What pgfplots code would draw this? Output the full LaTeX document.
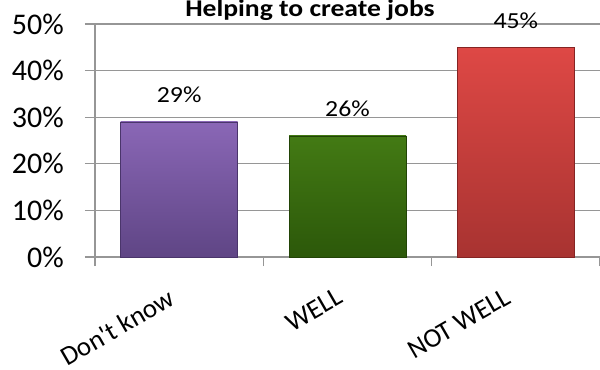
\documentclass[border=0pt]{standalone}
\usepackage{pgfplots}
\pgfplotsset{compat=1.18}
\usepackage{fontspec}
\setmainfont{Carlito}
\definecolor{gridgray}{HTML}{969696}
\definecolor{purTop}{HTML}{8A67B6}
\definecolor{purBot}{HTML}{5F4585}
\definecolor{purEdge}{HTML}{4A356B}
\definecolor{grnTop}{HTML}{437A14}
\definecolor{grnBot}{HTML}{2C580A}
\definecolor{grnEdge}{HTML}{224406}
\definecolor{redTop}{HTML}{DE4845}
\definecolor{redBot}{HTML}{A83331}
\definecolor{redEdge}{HTML}{852423}
\begin{document}
\begin{tikzpicture}
\begin{axis}[
  at={(0,0)}, anchor=south west,
  scale only axis, width=505bp, height=233bp,
  xmin=0, xmax=3, ymin=0, ymax=50,
  ytick={0,10,20,30,40,50},
  yticklabel={\pgfmathprintnumber{\tick}\%},
  /pgf/number format/assume math mode=true,
  ymajorgrids, grid style={gridgray, line width=1.2bp},
  axis x line*=bottom, axis y line*=left,
  axis line style={gridgray, line width=1.2bp, -},
  tick align=outside, major tick length=10bp,
  tick style={gridgray, line width=1.2bp},
  xtick={0.5,1.5,2.5},
  xticklabels={Don\textquotesingle t know, WELL, NOT WELL},
  xtick style={draw=none},
  extra x ticks={0,1,2,3},
  extra x tick labels={},
  extra x tick style={grid=none, xtick style={draw=gridgray}, major tick length=9bp},
  yticklabel style={font=\fontsize{30bp}{32bp}\selectfont, anchor=east, inner sep=0pt, xshift=-21bp},
  xticklabel style={font=\fontsize{27bp}{29bp}\selectfont, xshift=-12bp, yshift=-20bp, rotate=30, anchor=north east, inner sep=0pt},
  nodes near coords={\pgfmathprintnumber{\pgfplotspointmeta}\%},
  every node near coord/.append style={anchor=base, yshift=19bp, inner sep=0pt, xscale=1.12, font=\fontsize{23bp}{25bp}\selectfont, text=black},
  clip=false,
]
\addplot[ybar, bar width=117bp, bar shift=0pt, draw=purEdge, line width=0.6bp, top color=purTop, bottom color=purBot] coordinates {(0.5,29)};
\addplot[ybar, bar width=117bp, bar shift=0pt, draw=grnEdge, line width=0.6bp, top color=grnTop, bottom color=grnBot] coordinates {(1.5,26)};
\addplot[ybar, bar width=117bp, bar shift=0pt, draw=redEdge, line width=0.6bp, top color=redTop, bottom color=redBot] coordinates {(2.5,45)};
\end{axis}
\node[anchor=base, inner sep=0pt, xscale=1.15, font=\bfseries\fontsize{24bp}{26bp}\selectfont] at (215bp,240bp) {Helping to create jobs};
\pgfresetboundingbox
\useasboundingbox (-95bp,-113bp) rectangle (505bp,257bp);
\end{tikzpicture}
\end{document}
